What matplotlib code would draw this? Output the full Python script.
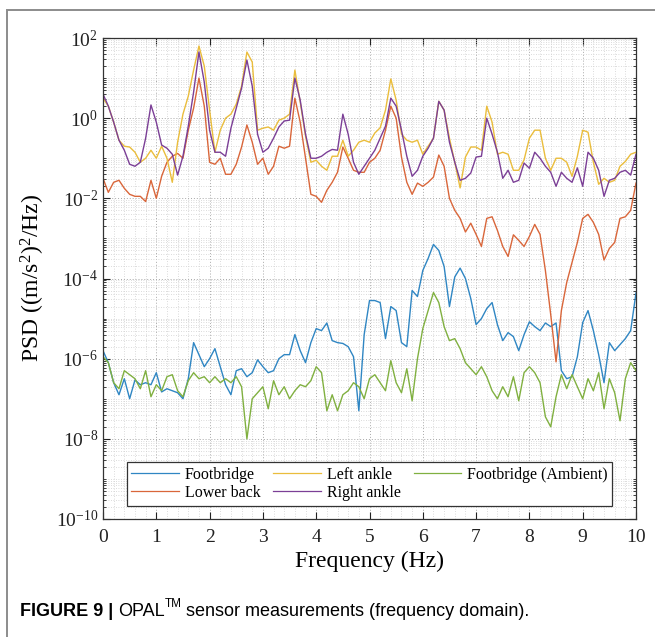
import numpy as np
import matplotlib
matplotlib.use("Agg")
import matplotlib.pyplot as plt
from matplotlib.ticker import FixedLocator, NullFormatter, LogFormatterSciNotation
from matplotlib.patches import Rectangle

# ---------------- data (log10 of PSD) ----------------
freq = np.linspace(0, 10, 101)

footbridge_log10 = [
    -5.8, -6.1, -6.6, -6.9, -6.5, -7.0, -6.53, -6.65, -6.6, -6.65,
    -6.35, -6.83, -6.75, -6.8, -6.85, -7.0, -6.5, -5.6, -5.9, -6.2,
    -6.0, -5.75, -6.2, -6.65, -6.9, -6.3, -6.25, -6.45, -6.35, -6.03,
    -6.2, -6.35, -6.3, -6.0, -5.9, -5.9, -5.4, -5.8, -6.1, -5.6,
    -5.25, -5.3, -5.11, -5.55, -5.6, -5.62, -5.7, -5.95, -7.3, -5.4,
    -4.55, -4.55, -4.6, -5.5, -4.7, -4.8, -5.6, -5.7, -4.3, -4.45,
    -3.8, -3.5, -3.15, -3.3, -3.7, -4.7, -3.96, -3.74, -4.0, -4.5,
    -5.15, -5.0, -4.75, -4.6, -5.15, -5.55, -5.35, -5.45, -5.8, -5.4,
    -5.08, -5.2, -5.3, -5.11, -5.2, -5.11, -6.3, -6.5, -6.45, -5.95,
    -5.1, -4.8, -5.3, -5.9, -6.6, -5.6, -5.8, -5.65, -5.5, -5.3,
    -4.36]

lower_back_log10 = [
    -1.5, -1.85, -1.6, -1.55, -1.75, -1.9, -1.95, -1.95, -2.08, -1.55,
    -2.0, -1.45, -1.1, -0.95, -0.88, -1.0, -0.3, 0.25, 1.0, 0.3,
    -1.1, -1.15, -1.0, -1.4, -1.4, -1.15, -0.72, -0.17, -0.6, -1.15,
    -1.0, -1.4, -1.2, -0.7, -0.75, -0.7, 0.5, -0.1, -1.0, -1.9,
    -1.95, -2.1, -1.8, -1.6, -1.35, -0.72, -1.0, -1.3, -1.35, -1.35,
    -1.1, -1.0, -0.8, -0.3, 0.3, 0.0, -0.97, -1.6, -1.9, -1.62,
    -1.7, -1.6, -1.47, -0.92, -1.2, -2.0, -2.3, -2.5, -2.84, -2.62,
    -2.9, -3.2, -2.5, -2.46, -2.8, -3.2, -3.45, -2.91, -3.05, -3.2,
    -2.95, -2.65, -2.9, -3.8, -4.9, -6.08, -4.8, -4.1, -3.6, -3.1,
    -2.5, -2.4, -2.6, -2.9, -3.54, -3.25, -3.1, -2.5, -2.46, -2.3,
    -1.62]

left_ankle_log10 = [
    0.5, 0.3, -0.1, -0.55, -0.7, -0.72, -0.85, -1.1, -1.0, -0.8,
    -1.0, -0.7, -1.0, -1.6, -0.6, 0.1, 0.55, 1.2, 1.8, 1.3,
    0.2, -0.85, -0.3, 0.0, 0.1, 0.35, 0.8, 1.65, 1.4, -0.3,
    -0.25, -0.22, -0.3, -0.05, 0.0, 0.1, 1.2, 0.4, -0.45, -1.1,
    -1.05, -1.2, -1.3, -0.95, -0.95, -0.55, -0.95, -0.8, -0.6, -0.55,
    -0.6, -0.37, -0.24, 0.2, 0.98, 0.45, -0.4, -0.55, -0.6, -0.55,
    -0.9, -0.7, -0.5, 0.42, 0.2, -0.5, -1.1, -1.74, -0.97, -0.72,
    -0.72, -0.8, 0.3, -0.1, -0.9, -0.85, -0.9, -1.3, -1.3, -1.04,
    -0.5, -0.3, -0.3, -1.0, -1.3, -1.0, -1.0, -1.1, -1.45, -0.95,
    -0.3, -0.35, -1.1, -1.65, -1.5, -1.6, -1.55, -1.2, -1.08, -0.9,
    -0.85]

right_ankle_log10 = [
    0.6, 0.3, -0.1, -0.55, -0.8, -1.15, -1.2, -1.1, -0.5, 0.33,
    -0.1, -0.67, -0.75, -0.9, -1.42, -0.95, -0.2, 0.65, 1.65, 0.9,
    -0.3, -0.85, -0.85, -0.95, -0.25, 0.25, 0.75, 1.45, 0.8, -0.4,
    -0.85, -0.75, -0.5, -0.22, -0.07, -0.05, 1.0, 0.45, -0.4, -1.0,
    -1.0, -0.95, -0.85, -0.78, -0.8, 0.1, -0.4, -1.1, -1.4, -1.2,
    -1.0, -0.8, -0.5, -0.2, 0.5, 0.3, -0.3, -0.95, -1.45, -1.3,
    -0.95, -0.75, -0.5, 0.42, 0.2, -0.6, -1.1, -1.55, -1.5, -1.37,
    -0.97, -0.95, 0.0, -0.4, -0.85, -1.5, -1.3, -1.6, -1.55, -1.12,
    -1.25, -0.85, -1.0, -1.2, -1.35, -1.7, -1.35, -1.5, -1.6, -1.24,
    -1.7, -0.85, -1.0, -1.3, -1.95, -1.55, -1.5, -1.35, -1.3, -1.42,
    -0.9]

ambient_log10 = [
    -5.95, -6.1, -6.6, -6.75, -6.3, -6.4, -6.5, -6.75, -6.3, -6.95,
    -6.65, -6.8, -6.45, -6.4, -6.8, -6.95, -6.55, -6.35, -6.5, -6.45,
    -6.6, -6.45, -6.6, -6.5, -6.6, -6.45, -6.7, -8.0, -7.0, -6.85,
    -6.7, -7.25, -6.55, -6.9, -6.7, -7.0, -6.8, -6.65, -6.7, -6.55,
    -6.2, -6.35, -7.3, -6.9, -7.3, -6.9, -6.8, -6.6, -6.7, -7.0,
    -6.5, -6.4, -6.6, -6.8, -6.05, -6.6, -6.85, -6.25, -7.05, -6.0,
    -5.25, -4.8, -4.35, -4.6, -5.2, -5.55, -5.5, -5.75, -6.1, -6.25,
    -6.4, -6.2, -6.45, -6.8, -7.0, -6.7, -6.95, -6.45, -7.05, -6.35,
    -6.2, -6.35, -6.6, -7.45, -7.7, -6.95, -6.4, -6.75, -6.4, -6.7,
    -7.0, -6.5, -6.8, -6.35, -7.25, -6.5, -6.85, -7.55, -6.5, -6.1,
    -6.3]

series_names = ["Footbridge", "Lower back", "Left ankle", "Right ankle",
                "Footbridge (Ambient)"]
series_data = [footbridge_log10, lower_back_log10, left_ankle_log10,
               right_ankle_log10, ambient_log10]
series_colors = ["#2f86c3", "#d9663a", "#eabd3c", "#7b3f96", "#80b040"]

x_ticks = list(range(0, 11))
y_tick_exps = list(range(-10, 3, 2))

# ---------------- style ----------------
plt.rcParams["font.family"] = ["Liberation Serif", "DejaVu Serif"]
plt.rcParams["mathtext.fontset"] = "custom"
plt.rcParams["mathtext.rm"] = "Liberation Serif"
plt.rcParams["mathtext.it"] = "Liberation Serif:italic"
plt.rcParams["mathtext.bf"] = "Liberation Serif:bold"

fig = plt.figure(figsize=(6.55, 6.37), dpi=100)
W, H = 655, 637

# outer frame
fig.patches.append(Rectangle((7 / W, -0.1), 1.2, 1.1 - 10 / H,
                             transform=fig.transFigure, fill=False,
                             edgecolor="#8c8c8c", linewidth=1.4))

ax = fig.add_axes([103 / W, 1 - 519 / H, (636 - 103) / W, (519 - 38) / H])

for name, vals, col in zip(series_names, series_data, series_colors):
    ax.semilogy(freq, 10.0 ** np.asarray(vals), color=col, lw=1.0, label=name)

ax.set_xlim(0, 10)
ax.set_ylim(1e-10, 1e2)
ax.set_xticks(x_ticks)
ax.set_yticks([10.0 ** e for e in y_tick_exps])
ax.yaxis.set_major_formatter(LogFormatterSciNotation())
minor_y = [k * 10.0 ** d for d in range(-10, 2) for k in range(1, 10)
           if not (k == 1 and d % 2 == 0)]
ax.yaxis.set_minor_locator(FixedLocator(minor_y))
ax.yaxis.set_minor_formatter(NullFormatter())
ax.xaxis.set_minor_locator(FixedLocator([i / 5 for i in range(51) if i % 5]))

ax.grid(True, which="major", linestyle=(0, (1, 2)), color="#a8a8a8", lw=0.7)
ax.grid(True, which="minor", linestyle=(0, (1, 2)), color="#cfcfcf", lw=0.6)
ax.set_axisbelow(True)

ax.tick_params(which="both", direction="in", top=True, right=True,
               labelsize=14, colors="#222222")
ax.tick_params(which="major", length=5, width=0.8)
ax.tick_params(which="minor", length=2.5, width=0.6)
ax.tick_params(axis="x", which="minor", length=0)
ax.tick_params(axis="x", pad=7)
for s in ax.spines.values():
    s.set_color("#333333")
    s.set_linewidth(0.9)

ax.set_xlabel("Frequency (Hz)", fontsize=17, labelpad=4)
ax.set_ylabel(r"PSD ((m/s$^2$)$^2$/Hz)", fontsize=17, labelpad=6)

leg = ax.legend(loc="lower center", bbox_to_anchor=(0.5, 0.011), ncol=3,
                fontsize=11.5, frameon=True, fancybox=False, framealpha=1,
                edgecolor="#333333", handlelength=3.0, columnspacing=0.8,
                handletextpad=0.35, borderpad=0.3, labelspacing=0.15)
leg.get_frame().set_linewidth(0.9)
for ln in leg.get_lines():
    ln.set_linewidth(0.9)

# caption
cap_y = 1 - 611 / H
t1 = fig.text(20 / W, cap_y, "FIGURE 9 |", fontsize=13, fontweight="bold",
              family=["Liberation Sans"], va="center", ha="left")
fig.canvas.draw()
r = fig.canvas.get_renderer()
bb = t1.get_window_extent(r)
t2 = fig.text((bb.x1 + 5) / W, cap_y, "OPAL", fontsize=13,
              family=["Liberation Sans"], va="center", ha="left")
bb2 = t2.get_window_extent(r)
t3 = fig.text(bb2.x1 / W, cap_y + 7 / H, "TM", fontsize=8.5,
              family=["Liberation Sans"], va="center", ha="left")
bb3 = t3.get_window_extent(r)
fig.text((bb3.x1 + 4) / W, cap_y, "sensor measurements (frequency domain).",
         fontsize=13, family=["Liberation Sans"], va="center", ha="left")

fig.savefig("out.png", dpi=100)
